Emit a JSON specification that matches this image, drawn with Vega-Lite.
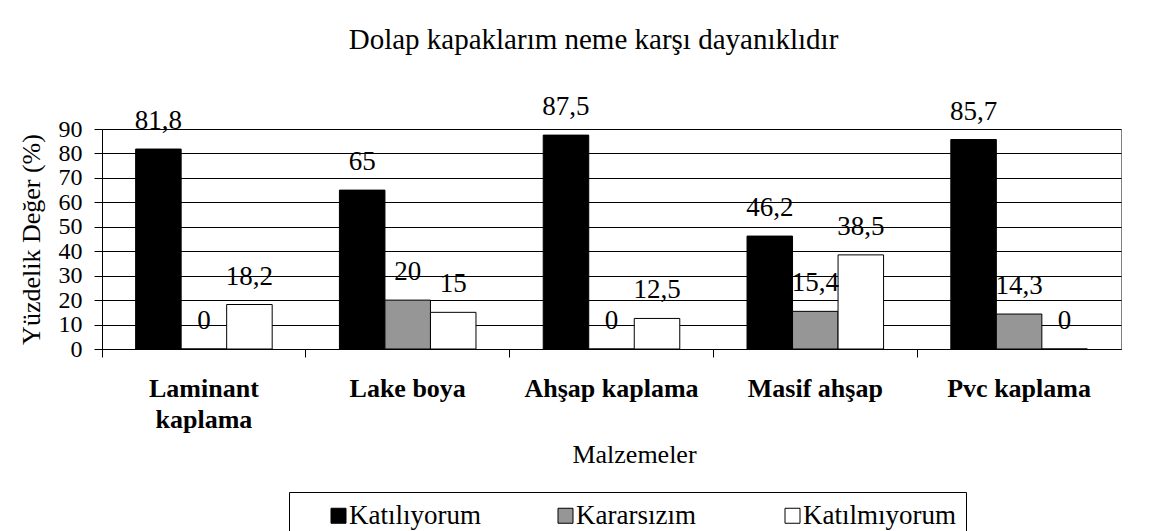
{
  "$schema": "https://vega.github.io/schema/vega-lite/v6.json",
  "width": 1019,
  "height": 220,
  "autosize": {"type": "none"},
  "padding": {"left": 102, "top": 129, "right": 38, "bottom": 182},
  "background": "white",
  "title": {
    "text": "Dolap kapaklarım neme karşı dayanıklıdır",
    "font": "Liberation Serif, Tinos, Times New Roman, DejaVu Serif, serif",
    "fontSize": 29,
    "fontWeight": "normal",
    "color": "black",
    "anchor": "middle",
    "offset": 38,
    "dx": -18
  },
  "data": {
    "values": [
      {"malzeme": "Laminant kaplama", "yanit": "Katılıyorum", "deger": 81.8},
      {"malzeme": "Laminant kaplama", "yanit": "Kararsızım", "deger": 0},
      {"malzeme": "Laminant kaplama", "yanit": "Katılmıyorum", "deger": 18.2},
      {"malzeme": "Lake boya", "yanit": "Katılıyorum", "deger": 65},
      {"malzeme": "Lake boya", "yanit": "Kararsızım", "deger": 20},
      {"malzeme": "Lake boya", "yanit": "Katılmıyorum", "deger": 15},
      {"malzeme": "Ahşap kaplama", "yanit": "Katılıyorum", "deger": 87.5},
      {"malzeme": "Ahşap kaplama", "yanit": "Kararsızım", "deger": 0},
      {"malzeme": "Ahşap kaplama", "yanit": "Katılmıyorum", "deger": 12.5},
      {"malzeme": "Masif ahşap", "yanit": "Katılıyorum", "deger": 46.2},
      {"malzeme": "Masif ahşap", "yanit": "Kararsızım", "deger": 15.4},
      {"malzeme": "Masif ahşap", "yanit": "Katılmıyorum", "deger": 38.5},
      {"malzeme": "Pvc kaplama", "yanit": "Katılıyorum", "deger": 85.7},
      {"malzeme": "Pvc kaplama", "yanit": "Kararsızım", "deger": 14.3},
      {"malzeme": "Pvc kaplama", "yanit": "Katılmıyorum", "deger": 0}
    ]
  },
  "encoding": {
    "x": {
      "field": "malzeme",
      "type": "nominal",
      "sort": ["Laminant kaplama", "Lake boya", "Ahşap kaplama", "Masif ahşap", "Pvc kaplama"],
      "scale": {"paddingInner": 0.33, "paddingOuter": 0.165},
      "axis": {
        "title": "Malzemeler",
        "labelAngle": 0,
        "labelFontWeight": "bold",
        "labelFontSize": 26,
        "labelColor": "black",
        "labelLimit": 400,
        "labelOverlap": false,
        "labelExpr": "datum.label == 'Laminant kaplama' ? ['Laminant', 'kaplama'] : datum.label",
        "labelLineHeight": 31,
        "labelPadding": 18,
        "bandPosition": -0.246,
        "tickSize": 8,
        "tickColor": "black",
        "domainColor": "black",
        "titleFontSize": 26,
        "titleFontWeight": "normal",
        "titleColor": "black",
        "titleX": 532,
        "titleY": 113,
        "titleBaseline": "alphabetic",
        "titleAlign": "center"
      }
    },
    "xOffset": {
      "field": "yanit",
      "type": "nominal",
      "sort": ["Katılıyorum", "Kararsızım", "Katılmıyorum"],
      "scale": {"paddingInner": 0, "paddingOuter": 0}
    },
    "y": {
      "field": "deger",
      "type": "quantitative",
      "scale": {"domain": [0, 90], "nice": false},
      "axis": {
        "title": "Yüzdelik Değer (%)",
        "values": [0, 10, 20, 30, 40, 50, 60, 70, 80, 90],
        "labelOverlap": false,
        "grid": true,
        "gridColor": "black",
        "gridOpacity": 1,
        "gridWidth": 1,
        "domainColor": "black",
        "tickColor": "black",
        "tickSize": 8,
        "labelPadding": 12,
        "labelFontSize": 24,
        "labelColor": "black",
        "titleFontSize": 26,
        "titleFontWeight": "normal",
        "titleColor": "black",
        "titlePadding": 14
      }
    }
  },
  "layer": [
    {
      "mark": {"type": "bar", "stroke": "black", "strokeWidth": 1},
      "encoding": {
        "color": {
          "field": "yanit",
          "type": "nominal",
          "sort": ["Katılıyorum", "Kararsızım", "Katılmıyorum"],
          "scale": {"domain": ["Katılıyorum", "Kararsızım", "Katılmıyorum"], "range": ["#000000", "#969696", "#ffffff"]},
          "legend": {
            "title": null,
            "orient": "none",
            "legendX": 187,
            "legendY": 363,
            "direction": "horizontal",
            "columns": 3,
            "gridAlign": "all",
            "columnPadding": 24,
            "symbolType": "square",
            "symbolSize": 225,
            "symbolStrokeColor": "black",
            "symbolStrokeWidth": 1,
            "symbolOpacity": 1,
            "symbolOffset": 26,
            "labelFontSize": 27,
            "labelColor": "black",
            "labelOffset": -3,
            "labelLimit": 400,
            "strokeColor": "black",
            "padding": 10
          }
        }
      }
    },
    {
      "mark": {"type": "text", "baseline": "alphabetic", "dy": -20, "fontSize": 27, "color": "black"},
      "encoding": {
        "text": {"field": "deger", "type": "quantitative", "format": ".1~f"}
      }
    }
  ],
  "config": {
    "font": "Liberation Serif, Tinos, Times New Roman, DejaVu Serif, serif",
    "locale": {"number": {"decimal": ",", "thousands": ".", "grouping": [3], "currency": ["", ""]}},
    "view": {"stroke": "#808080", "strokeWidth": 1},
    "axis": {"domainWidth": 1, "tickWidth": 1, "labelFont": "Liberation Serif, Tinos, Times New Roman, DejaVu Serif, serif", "titleFont": "Liberation Serif, Tinos, Times New Roman, DejaVu Serif, serif"},
    "legend": {"labelFont": "Liberation Serif, Tinos, Times New Roman, DejaVu Serif, serif", "titleFont": "Liberation Serif, Tinos, Times New Roman, DejaVu Serif, serif"},
    "title": {"font": "Liberation Serif, Tinos, Times New Roman, DejaVu Serif, serif"},
    "text": {"font": "Liberation Serif, Tinos, Times New Roman, DejaVu Serif, serif"}
  }
}
